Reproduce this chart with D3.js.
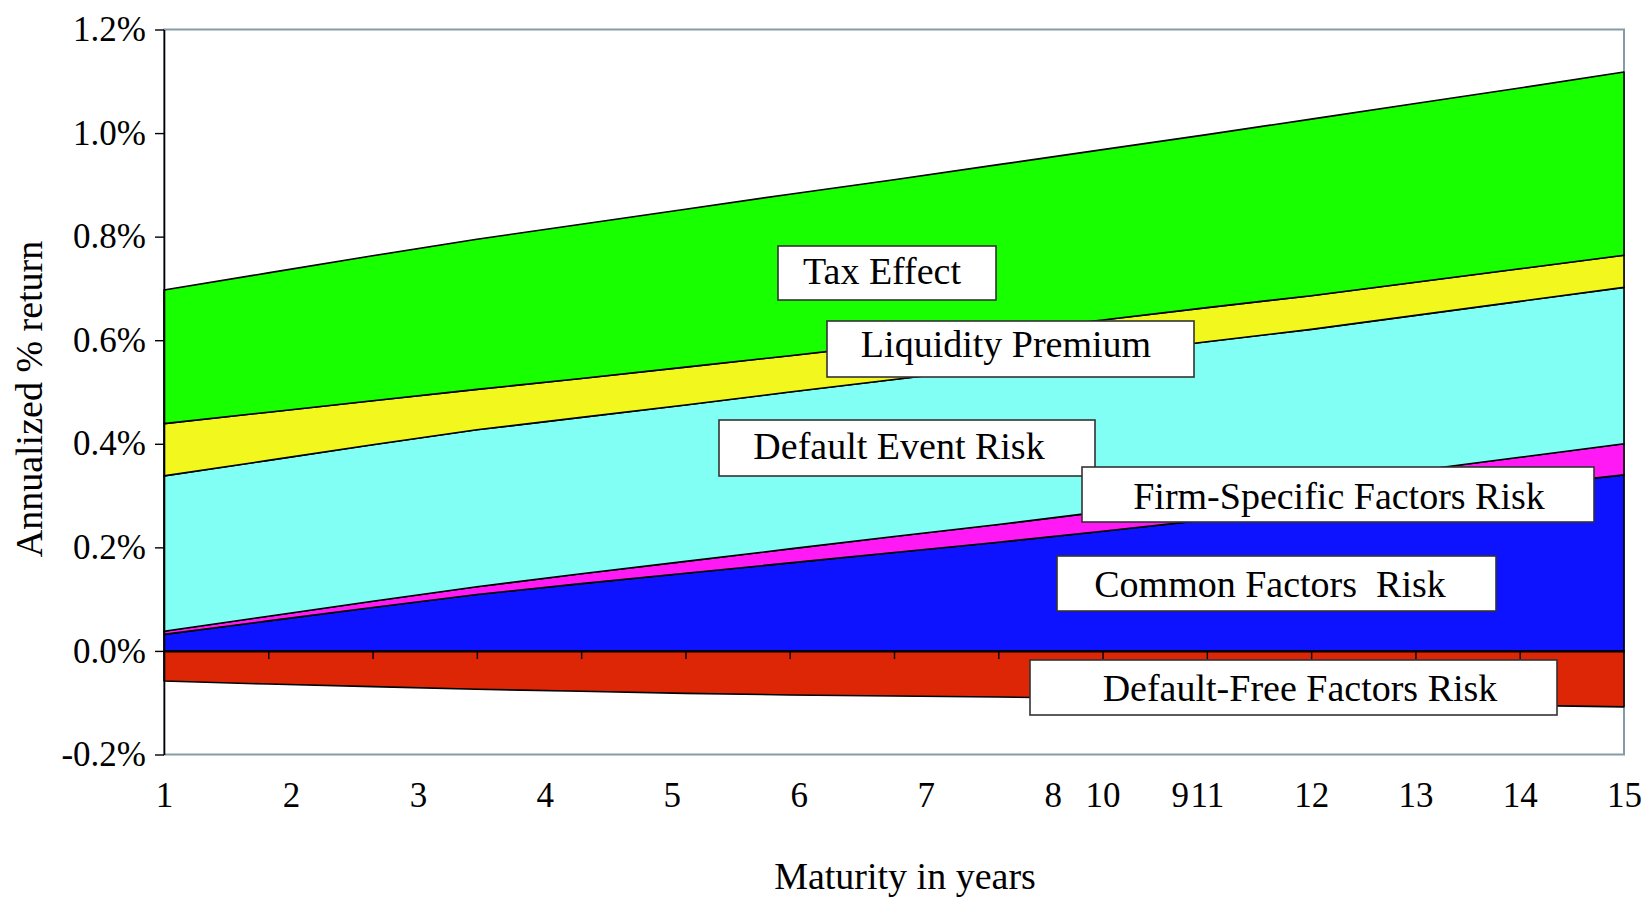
<!DOCTYPE html>
<html>
<head>
<meta charset="utf-8">
<script src="https://cdn.jsdelivr.net/npm/d3@7"></script>
<style>
  html, body { margin: 0; padding: 0; background: #fff; }
  svg { display: block; }
  text { font-family: 'Liberation Serif', 'Times New Roman', serif; fill: #000; }
</style>
</head>
<body>
<svg id="chart" width="1650" height="898"></svg>
<script>
// ---- data (annualized % return) ----
const maturities = [1, 2, 3, 4, 5, 6, 7, 8, 9, 10, 11, 12, 13, 14, 15];
const defaultFreeRisk   = [-0.058, -0.064, -0.069, -0.074, -0.078, -0.082, -0.085, -0.087, -0.089, -0.092, -0.095, -0.098, -0.101, -0.105, -0.108];
const commonFactorsRisk = [0.032, 0.058, 0.084, 0.109, 0.130, 0.150, 0.170, 0.190, 0.210, 0.231, 0.253, 0.275, 0.296, 0.318, 0.340];
const firmSpecificRisk  = [0.006, 0.009, 0.012, 0.015, 0.019, 0.023, 0.027, 0.031, 0.034, 0.038, 0.042, 0.046, 0.052, 0.056, 0.060];
const defaultEventRisk  = [0.300, 0.301, 0.302, 0.303, 0.302, 0.302, 0.303, 0.303, 0.304, 0.304, 0.302, 0.300, 0.300, 0.301, 0.302];
const liquidityPremium  = [0.101, 0.093, 0.085, 0.078, 0.075, 0.073, 0.070, 0.069, 0.068, 0.066, 0.066, 0.065, 0.064, 0.063, 0.062];
const taxEffect         = [0.258, 0.269, 0.280, 0.290, 0.298, 0.305, 0.312, 0.317, 0.323, 0.329, 0.334, 0.341, 0.345, 0.349, 0.354];

const seriesNames = ["Default-Free Factors Risk", "Common Factors  Risk", "Firm-Specific Factors Risk",
                     "Default Event Risk", "Liquidity Premium", "Tax Effect"];
const yTickValues = [-0.2, 0.0, 0.2, 0.4, 0.6, 0.8, 1.0, 1.2];
const xTickLabelsShifted = [1, 2, 3, 4, 5, 6, 7, 8, 9];   // labels drawn on the original's shifted label grid
const xTickLabelsAligned = [10, 11, 12, 13, 14, 15];        // labels on the true tick positions
const xTitle = "Maturity in years";
const yTitle = "Annualized % return";

// ---- styling / layout ----
const colors = {
  "Default-Free Factors Risk": "#dd2606",
  "Common Factors  Risk": "#0d12ff",
  "Firm-Specific Factors Risk": "#ff1af5",
  "Default Event Risk": "#82fff4",
  "Liquidity Premium": "#f2f71e",
  "Tax Effect": "#18ff00"
};
const plot = { left: 164, right: 1624, top: 29.5, bottom: 754.5 };
const annotations = [
  { text: "Tax Effect",                 x0: 778,  x1: 996,  y0: 246, y1: 300, cx: 882,  base: 284 },
  { text: "Liquidity Premium",          x0: 827,  x1: 1194, y0: 321, y1: 377, cx: 1006, base: 357 },
  { text: "Default Event Risk",         x0: 719,  x1: 1095, y0: 420, y1: 476, cx: 899,  base: 459 },
  { text: "Firm-Specific Factors Risk", x0: 1082, x1: 1594, y0: 467, y1: 522, cx: 1339, base: 509 },
  { text: "Common Factors  Risk",       x0: 1057, x1: 1496, y0: 556, y1: 611, cx: 1270, base: 597 },
  { text: "Default-Free Factors Risk",  x0: 1030, x1: 1557, y0: 660, y1: 715, cx: 1300, base: 701 }
];

const svg = d3.select("#chart");

const x = d3.scaleLinear().domain([1, 15]).range([plot.left, plot.right]);
const xLabelShifted = d3.scaleLinear().domain([1, 12.5]).range([plot.left, plot.right]);
const y = d3.scaleLinear().domain([-0.2, 1.2]).range([plot.bottom, plot.top]);

const table = maturities.map((m, i) => ({
  m,
  "Default-Free Factors Risk": defaultFreeRisk[i],
  "Common Factors  Risk": commonFactorsRisk[i],
  "Firm-Specific Factors Risk": firmSpecificRisk[i],
  "Default Event Risk": defaultEventRisk[i],
  "Liquidity Premium": liquidityPremium[i],
  "Tax Effect": taxEffect[i]
}));

const stacked = d3.stack().keys(seriesNames).offset(d3.stackOffsetDiverging)(table);

// plot frame (grey)
svg.append("rect")
  .attr("x", plot.left).attr("y", plot.top)
  .attr("width", plot.right - plot.left).attr("height", plot.bottom - plot.top)
  .attr("fill", "none").attr("stroke", "#869ca5").attr("stroke-width", 2);

const area = d3.area()
  .x(d => x(d.data.m))
  .y0(d => y(d[0]))
  .y1(d => y(d[1]));

svg.append("g").selectAll("path")
  .data(stacked)
  .join("path")
  .attr("d", area)
  .attr("fill", d => colors[d.key])
  .attr("stroke", "#000")
  .attr("stroke-width", 1.6)
  .attr("stroke-linejoin", "round");

// category axis on the zero line
const zeroAxis = svg.append("g")
  .attr("transform", `translate(0,${y(0)})`)
  .call(d3.axisBottom(x).tickValues(maturities.slice(1, -1)).tickSize(8).tickSizeOuter(0).tickFormat(""));
zeroAxis.select(".domain").attr("stroke", "#000").attr("stroke-width", 2.2);
zeroAxis.selectAll(".tick line").attr("stroke", "#000").attr("stroke-width", 1.4);

// y axis
const yAxis = svg.append("g")
  .attr("transform", `translate(${plot.left},0)`)
  .call(d3.axisLeft(y).tickValues(yTickValues).tickSize(9).tickSizeOuter(0).tickPadding(9)
        .tickFormat(d => d.toFixed(1) + "%"));
yAxis.select(".domain").attr("stroke", "#000").attr("stroke-width", 1.6);
yAxis.selectAll(".tick line").attr("stroke", "#000").attr("stroke-width", 1.4);
yAxis.selectAll("text").attr("font-size", 35).attr("font-family", "'Liberation Serif', serif").attr("fill", "#000");

// x tick labels
const labelY = 782;
const xa1 = svg.append("g").attr("transform", `translate(0,${labelY})`)
  .call(d3.axisBottom(xLabelShifted).tickValues(xTickLabelsShifted).tickSize(0).tickPadding(0).tickFormat(d => String(d)));
const xa2 = svg.append("g").attr("transform", `translate(0,${labelY})`)
  .call(d3.axisBottom(x).tickValues(xTickLabelsAligned).tickSize(0).tickPadding(0).tickFormat(d => String(d)));
[xa1, xa2].forEach(g => {
  g.select(".domain").remove();
  g.selectAll("text").attr("font-size", 35).attr("font-family", "'Liberation Serif', serif").attr("fill", "#000");
});

// titles
svg.append("text")
  .attr("x", 905).attr("y", 889)
  .attr("text-anchor", "middle")
  .attr("font-size", 38)
  .text(xTitle);

svg.append("text")
  .attr("transform", "translate(42,399) rotate(-90)")
  .attr("text-anchor", "middle")
  .attr("font-size", 38)
  .text(yTitle);

// annotation boxes
const ann = svg.append("g").selectAll("g").data(annotations).join("g");
ann.append("rect")
  .attr("x", d => d.x0).attr("y", d => d.y0)
  .attr("width", d => d.x1 - d.x0).attr("height", d => d.y1 - d.y0)
  .attr("fill", "#fff").attr("stroke", "#333").attr("stroke-width", 1.6);
ann.append("text")
  .attr("x", d => d.cx).attr("y", d => d.base)
  .attr("text-anchor", "middle")
  .attr("font-size", 38)
  .style("white-space", "pre")
  .text(d => d.text);
</script>
</body>
</html>
